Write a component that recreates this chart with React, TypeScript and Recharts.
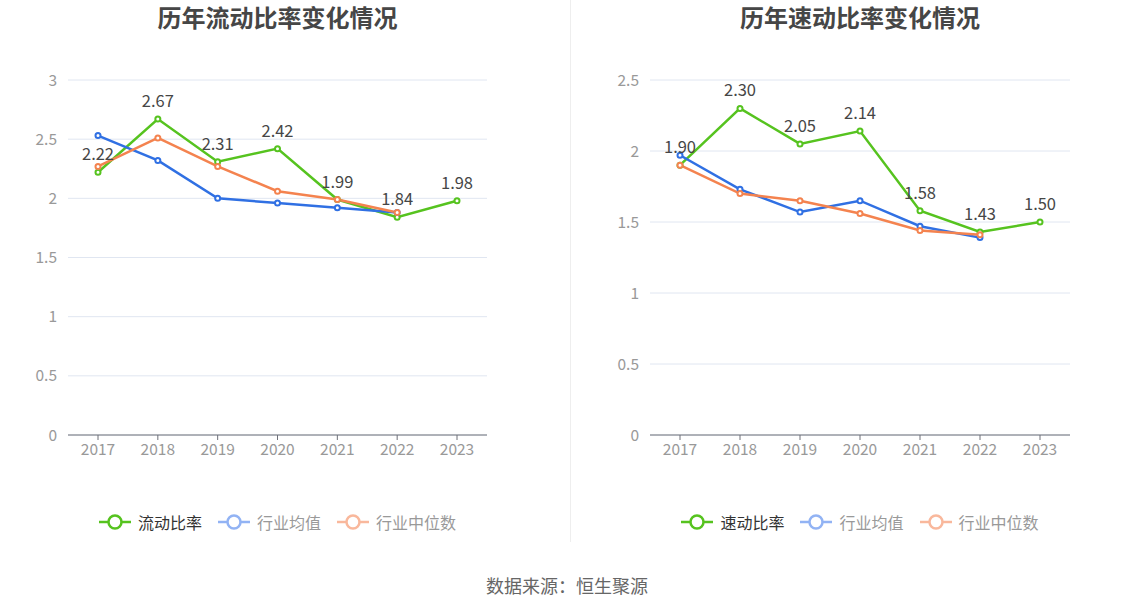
import React from 'react';
import { LineChart, Line, XAxis, YAxis, CartesianGrid, LabelList } from 'recharts';

const years = ['2017', '2018', '2019', '2020', '2021', '2022', '2023'];

const currentRatio = [2.22, 2.67, 2.31, 2.42, 1.99, 1.84, 1.98];
const currentAvg = [2.53, 2.32, 2.0, 1.96, 1.92, 1.88, null];
const currentMedian = [2.27, 2.51, 2.27, 2.06, 1.99, 1.88, null];

const quickRatio = [1.9, 2.3, 2.05, 2.14, 1.58, 1.43, 1.5];
const quickAvg = [1.97, 1.73, 1.57, 1.65, 1.47, 1.39, null];
const quickMedian = [1.9, 1.7, 1.65, 1.56, 1.44, 1.41, null];

const currentTicks = [0, 0.5, 1, 1.5, 2, 2.5, 3];
const quickTicks = [0, 0.5, 1, 1.5, 2, 2.5];

const GREEN = '#56C31F';
const BLUE = '#3070E3';
const ORANGE = '#F4834F';
const FONT = '"Noto Sans CJK SC", "Noto Sans", sans-serif';

interface PanelProps {
  title: string;
  name: string;
  main: (number | null)[];
  avg: (number | null)[];
  median: (number | null)[];
  ticks: number[];
  left: number;
  marginLeft: number;
  marginRight: number;
}

const LegendItem = ({ color, text, textColor }: { color: string; text: string; textColor: string }) => (
  <div style={{ display: 'flex', alignItems: 'center', marginRight: 15 }}>
    <svg width={34} height={18}>
      <line x1={1} y1={9} x2={33} y2={9} stroke={color} strokeWidth={2.5} />
      <circle cx={17} cy={9} r={6.5} fill="#fff" stroke={color} strokeWidth={2.5} />
    </svg>
    <span style={{ marginLeft: 6, fontSize: 16, color: textColor }}>{text}</span>
  </div>
);

const Panel = ({ title, name, main, avg, median, ticks, left, marginLeft, marginRight }: PanelProps) => {
  const data = years.map((y, i) => ({ year: y, main: main[i], avg: avg[i], median: median[i] }));
  const plotCenter = marginLeft + (567 - marginLeft - marginRight) / 2;
  return (
    <div style={{ position: 'absolute', left, top: 0, width: 567, height: 560 }}>
      <div
        style={{
          position: 'absolute',
          top: 0,
          left: plotCenter - 200,
          width: 400,
          textAlign: 'center',
          fontSize: 24,
          lineHeight: '34px',
          fontWeight: 'bold',
          color: '#464646',
        }}
      >
        {title}
      </div>
      <div style={{ position: 'absolute', top: 0, left: 0 }}>
        <LineChart
          width={567}
          height={470}
          data={data}
          margin={{ top: 80, right: marginRight, bottom: 0, left: marginLeft - 50 }}
        >
          <CartesianGrid vertical={false} stroke="#E0E6F1" />
          <XAxis
            dataKey="year"
            padding={{ left: 30, right: 30 }}
            height={35}
            axisLine={{ stroke: '#6E7079' }}
            tickLine={{ stroke: '#6E7079' }}
            tickSize={5}
            tick={{ fill: '#999', fontSize: 15.5 }}
            tickMargin={4}
          />
          <YAxis
            width={50}
            domain={[0, ticks[ticks.length - 1]]}
            ticks={ticks}
            axisLine={false}
            tickLine={false}
            tick={{ fill: '#999', fontSize: 15.5 }}
            tickMargin={5}
          />
          <Line
            type="linear"
            dataKey="main"
            stroke={GREEN}
            strokeWidth={2.5}
            dot={{ r: 2.5, fill: '#fff', stroke: GREEN, strokeWidth: 2 }}
            isAnimationActive={false}
          >
            <LabelList
              dataKey="main"
              position="top"
              offset={12}
              formatter={(v: any) => Number(v).toFixed(2)}
              style={{ fill: '#464646', fontSize: 16.5 }}
            />
          </Line>
          <Line
            type="linear"
            dataKey="avg"
            stroke={BLUE}
            strokeWidth={2.5}
            dot={{ r: 2.5, fill: '#fff', stroke: BLUE, strokeWidth: 2 }}
            isAnimationActive={false}
          />
          <Line
            type="linear"
            dataKey="median"
            stroke={ORANGE}
            strokeWidth={2.5}
            dot={{ r: 2.5, fill: '#fff', stroke: ORANGE, strokeWidth: 2 }}
            isAnimationActive={false}
          />
        </LineChart>
      </div>
      <div
        style={{
          position: 'absolute',
          top: 510,
          left: plotCenter - 250 + 7,
          width: 500,
          display: 'flex',
          justifyContent: 'center',
        }}
      >
        <LegendItem color={GREEN} text={name} textColor="#333" />
        <LegendItem color="#92B3F4" text="行业均值" textColor="#999" />
        <LegendItem color="#F9B89C" text="行业中位数" textColor="#999" />
      </div>
    </div>
  );
};

export default function App() {
  return (
    <div
      style={{
        position: 'absolute',
        left: 0,
        top: 0,
        width: 1134,
        height: 612,
        background: '#fff',
        fontFamily: FONT,
        overflow: 'hidden',
      }}
    >
      <Panel
        title="历年流动比率变化情况"
        name="流动比率"
        main={currentRatio}
        avg={currentAvg}
        median={currentMedian}
        ticks={currentTicks}
        left={0}
        marginLeft={68}
        marginRight={80}
      />
      <div style={{ position: 'absolute', left: 570, top: 0, width: 1, height: 542, background: '#EEEEEE' }} />
      <Panel
        title="历年速动比率变化情况"
        name="速动比率"
        main={quickRatio}
        avg={quickAvg}
        median={quickMedian}
        ticks={quickTicks}
        left={567}
        marginLeft={83}
        marginRight={64}
      />
      <div
        style={{
          position: 'absolute',
          top: 572,
          left: 0,
          width: 1134,
          textAlign: 'center',
          fontSize: 18,
          color: '#666',
        }}
      >
        数据来源：恒生聚源
      </div>
    </div>
  );
}
